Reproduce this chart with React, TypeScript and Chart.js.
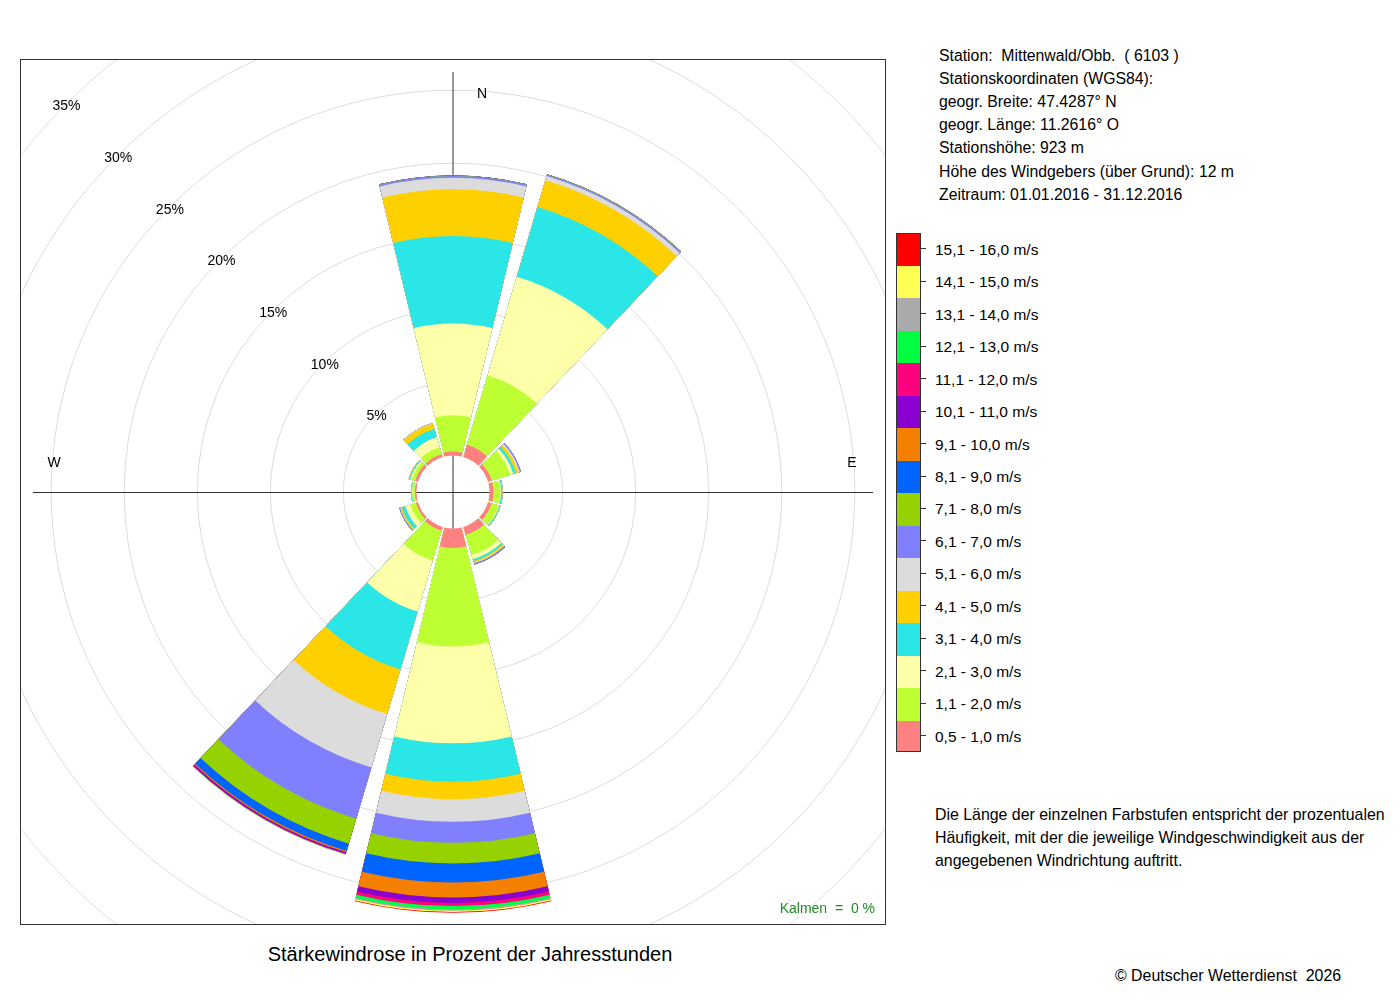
import React, { useEffect, useRef } from 'react';
import { Chart, registerables } from 'chart.js';

Chart.register(...registerables);

// Directions (sector centres N, 30°, 60° ... 330°)
const directions = ['N', 'NNO', 'ONO', 'O', 'OSO', 'SSO', 'S', 'SSW', 'WSW', 'W', 'WNW', 'NNW'];

// Speed classes (bottom to top of each sector)
const speedClasses = [
  '0,5 - 1,0 m/s', '1,1 - 2,0 m/s', '2,1 - 3,0 m/s', '3,1 - 4,0 m/s',
  '4,1 - 5,0 m/s', '5,1 - 6,0 m/s', '6,1 - 7,0 m/s', '7,1 - 8,0 m/s',
  '8,1 - 9,0 m/s', '9,1 - 10,0 m/s', '10,1 - 11,0 m/s', '11,1 - 12,0 m/s',
  '12,1 - 13,0 m/s', '13,1 - 14,0 m/s', '14,1 - 15,0 m/s', '15,1 - 16,0 m/s',
];
const classColors = [
  '#FF8080', '#BEFF33', '#FFFFAA', '#2AE6E6', '#FFD000', '#DCDCDC', '#8080FF', '#96D200',
  '#0064FF', '#F58000', '#8A00D0', '#FF007F', '#00FF40', '#AAAAAA', '#FFFF55', '#FF0000',
];

// Frequency in % of yearly hours per class, by direction (N ... NNW)
const s05_10 = [0.27, 0.88, 0.26, 0.27, 0.25, 0.57, 1.34, 0.27, 0.15, 0.10, 0.20, 0.20];
const s11_20 = [2.49, 4.96, 1.32, 0.45, 0.50, 1.43, 6.74, 2.13, 0.40, 0.17, 0.25, 0.50];
const s21_30 = [6.28, 7.02, 0.23, 0.06, 0.05, 0.30, 6.62, 3.63, 0.35, 0.03, 0.10, 0.70];
const s31_40 = [5.98, 4.99, 0.18, 0.08, 0.06, 0.13, 2.63, 4.14, 0.25, 0.05, 0.07, 0.60];
const s41_50 = [3.20, 1.90, 0.18, 0.03, 0.02, 0.11, 1.20, 3.17, 0.10, 0.02, 0.04, 0.38];
const s51_60 = [0.79, 0.30, 0.11, 0.01, 0.00, 0.05, 1.54, 3.82, 0.03, 0.00, 0.00, 0.04];
const s61_70 = [0.12, 0.10, 0.07, 0.00, 0.00, 0.06, 1.44, 3.66, 0.05, 0.00, 0.00, 0.00];
const s71_80 = [0.02, 0.03, 0.00, 0.00, 0.00, 0.01, 1.41, 1.78, 0.00, 0.00, 0.00, 0.00];
const s81_90 = [0.01, 0.00, 0.00, 0.00, 0.00, 0.01, 1.30, 0.53, 0.00, 0.00, 0.00, 0.00];
const s91_100 = [0.00, 0.00, 0.00, 0.00, 0.00, 0.00, 1.03, 0.09, 0.00, 0.00, 0.00, 0.00];
const s101_110 = [0.00, 0.00, 0.00, 0.00, 0.00, 0.01, 0.37, 0.09, 0.00, 0.00, 0.00, 0.00];
const s111_120 = [0.00, 0.00, 0.00, 0.00, 0.00, 0.00, 0.22, 0.03, 0.00, 0.00, 0.00, 0.00];
const s121_130 = [0.00, 0.00, 0.00, 0.00, 0.00, 0.00, 0.21, 0.03, 0.00, 0.00, 0.00, 0.00];
const s131_140 = [0.00, 0.00, 0.00, 0.00, 0.00, 0.00, 0.11, 0.01, 0.00, 0.00, 0.00, 0.00];
const s141_150 = [0.00, 0.00, 0.00, 0.00, 0.00, 0.00, 0.09, 0.00, 0.00, 0.00, 0.00, 0.00];
const s151_160 = [0.00, 0.00, 0.00, 0.00, 0.00, 0.00, 0.05, 0.00, 0.00, 0.00, 0.00, 0.00];

const series = [
  s05_10, s11_20, s21_30, s31_40, s41_50, s51_60, s61_70, s71_80,
  s81_90, s91_100, s101_110, s111_120, s121_130, s131_140, s141_150, s151_160,
];

const ringTicks = [5, 10, 15, 20, 25, 30, 35];

const infoLines = [
  'Station:  Mittenwald/Obb.  ( 6103 )',
  'Stationskoordinaten (WGS84):',
  'geogr. Breite: 47.4287° N',
  'geogr. Länge: 11.2616° O',
  'Stationshöhe: 923 m',
  'Höhe des Windgebers (über Grund): 12 m',
  'Zeitraum: 01.01.2016 - 31.12.2016',
];
const noteLines = [
  'Die Länge der einzelnen Farbstufen entspricht der prozentualen',
  'Häufigkeit, mit der die jeweilige Windgeschwindigkeit aus der',
  'angegebenen Windrichtung auftritt.',
];

const SECTOR_DEG = 27;
const GAP_DEG = 3;
const R_MIN = -2.5;
const R_MAX = 40;
const CANVAS = 1242;
const AXIS_LEN = 420;
const FONT = "'Liberation Sans', Arial, Helvetica, sans-serif";

const decorPlugin = {
  id: 'decor',
  beforeDatasetsDraw(chart: any) {
    const s = chart.scales.r;
    const ctx = chart.ctx;
    const cx = s.xCenter;
    const cy = s.yCenter;
    ctx.save();
    ctx.strokeStyle = '#333';
    ctx.lineWidth = 1;
    ctx.beginPath();
    ctx.moveTo(cx, cy - AXIS_LEN);
    ctx.lineTo(cx, cy + AXIS_LEN);
    ctx.moveTo(cx - AXIS_LEN, cy + 0.5);
    ctx.lineTo(cx + AXIS_LEN, cy + 0.5);
    ctx.stroke();
    ctx.restore();
  },
  afterDatasetsDraw(chart: any) {
    const s = chart.scales.r;
    const ctx = chart.ctx;
    const cx = s.xCenter;
    const cy = s.yCenter;
    const hole = s.getDistanceFromCenterForValue(0);
    ctx.save();
    ctx.fillStyle = '#ffffff';
    ctx.beginPath();
    ctx.arc(cx, cy, hole, 0, Math.PI * 2);
    ctx.fill();
    ctx.strokeStyle = '#333';
    ctx.lineWidth = 1;
    ctx.beginPath();
    ctx.moveTo(cx, cy - hole);
    ctx.lineTo(cx, cy + hole);
    ctx.moveTo(cx - hole, cy + 0.5);
    ctx.lineTo(cx + hole, cy + 0.5);
    ctx.stroke();

    ctx.fillStyle = '#000';
    ctx.font = `14px ${FONT}`;
    ctx.textAlign = 'center';
    ctx.textBaseline = 'middle';
    ringTicks.forEach((t) => {
      const r = s.getDistanceFromCenterForValue(t) / Math.SQRT2;
      ctx.fillText(`${t}%`, cx - r + 1, cy - r + 2);
    });
    ctx.fillText('N', cx + 29, cy - 398);
    ctx.fillText('W', cx - 399, cy - 29);
    ctx.fillText('E', cx + 399, cy - 29);
    ctx.restore();
  },
};

function WindRose() {
  const ref = useRef<HTMLCanvasElement | null>(null);
  useEffect(() => {
    if (!ref.current) return;
    const cum = series.map((_, k) =>
      directions.map((__, d) => series.slice(0, k + 1).reduce((a, sr) => a + sr[d], 0)),
    );
    const labels = directions.flatMap((d) => [d, '']);
    const angles = directions.flatMap(() => [SECTOR_DEG, GAP_DEG]);
    const datasets = cum.map((vals, k) => ({
      label: speedClasses[k],
      data: vals.flatMap((v) => [v, 0]),
      backgroundColor: vals.flatMap(() => [classColors[k], 'rgba(0,0,0,0)']),
      borderWidth: 0,
      angle: angles,
    }));
    const chart = new Chart(ref.current, {
      type: 'polarArea',
      data: { labels, datasets } as any,
      options: {
        responsive: false,
        animation: false,
        events: [],
        layout: { padding: 0 },
        plugins: { legend: { display: false }, tooltip: { enabled: false } },
        scales: {
          r: {
            min: R_MIN,
            max: R_MAX,
            startAngle: -SECTOR_DEG / 2,
            ticks: { display: false, stepSize: 5 },
            grid: {
              color: (c: any) => (c.tick && c.tick.value > 0 ? '#dcdcdc' : 'rgba(0,0,0,0)'),
              lineWidth: 1,
            },
            angleLines: { display: false },
            pointLabels: { display: false },
          },
        },
      } as any,
      plugins: [decorPlugin],
    });
    return () => chart.destroy();
  }, []);
  return (
    <canvas
      ref={ref}
      width={CANVAS}
      height={CANVAS}
      style={{ position: 'absolute', left: -189, top: -189, width: CANVAS, height: CANVAS }}
    />
  );
}

export default function App() {
  const legendTop = 232.5;
  const boxH = 32.47;
  const legendItems = speedClasses.map((l, i) => ({ label: l, color: classColors[i] })).reverse();
  return (
    <div
      style={{
        position: 'absolute', left: 0, top: 0, width: 1400, height: 1000,
        background: '#fff', fontFamily: FONT, color: '#000', overflow: 'hidden',
      }}
    >
      <div
        style={{
          position: 'absolute', left: 20, top: 59, width: 866, height: 866,
          boxSizing: 'border-box', border: '1px solid #333', overflow: 'hidden',
        }}
      >
        <WindRose />
        <div
          style={{
            position: 'absolute', right: 10, top: 839, fontSize: 14, color: '#228B22',
            whiteSpace: 'pre', lineHeight: '18px',
          }}
        >
          {'Kalmen  =  0 %'}
        </div>
      </div>

      <div
        style={{
          position: 'absolute', left: 0, width: 940, top: 942, textAlign: 'center',
          fontSize: 20, lineHeight: '24px',
        }}
      >
        Stärkewindrose in Prozent der Jahresstunden
      </div>

      <div style={{ position: 'absolute', left: 939, top: 43.5, fontSize: 15.8, lineHeight: '23.2px', whiteSpace: 'pre' }}>
        {infoLines.map((l, i) => (
          <div key={i}>{l}</div>
        ))}
      </div>

      <div
        style={{
          position: 'absolute', left: 896, top: legendTop, width: 25, height: boxH * 16,
          boxSizing: 'border-box', border: '1px solid #333', overflow: 'hidden',
        }}
      >
        {legendItems.map((it, i) => (
          <div key={i} style={{ height: boxH, background: it.color }} />
        ))}
      </div>
      {legendItems.map((it, i) => (
        <React.Fragment key={i}>
          <div
            style={{
              position: 'absolute', left: 921, top: legendTop + boxH * (i + 0.5) - 0.5,
              width: 5, height: 1, background: '#333',
            }}
          />
          <div
            style={{
              position: 'absolute', left: 935, top: legendTop + boxH * (i + 0.5) - 9,
              fontSize: 15.5, lineHeight: '20px', whiteSpace: 'pre',
            }}
          >
            {it.label}
          </div>
        </React.Fragment>
      ))}

      <div style={{ position: 'absolute', left: 935, top: 802.5, fontSize: 15.9, lineHeight: '23px', whiteSpace: 'pre' }}>
        {noteLines.map((l, i) => (
          <div key={i}>{l}</div>
        ))}
      </div>

      <div style={{ position: 'absolute', left: 1115, top: 966, fontSize: 15.9, lineHeight: '20px', whiteSpace: 'pre' }}>
        {'© Deutscher Wetterdienst  2026'}
      </div>
    </div>
  );
}
